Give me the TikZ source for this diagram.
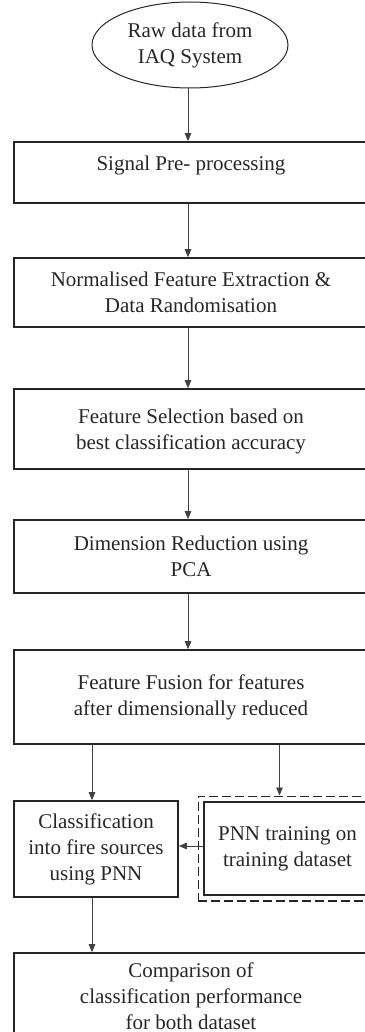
\documentclass[tikz,border=0pt]{standalone}
\usepackage{fontspec}
\setmainfont{Liberation Serif}
\usetikzlibrary{shapes.geometric,arrows.meta,fit}
\tikzset{
  stage/.style={shape=rectangle,draw=black!85,line width=1.6pt,align=center,inner sep=0pt,
    font=\fontsize{21}{26}\selectfont,text=black!85},
  flow/.style={color=black!75,line width=0.8pt,-{Triangle[length=8pt,width=6.5pt]}}
}
\begin{document}
\begin{tikzpicture}[x=1pt,y=-1pt]
\useasboundingbox (0,0) rectangle (364,1032);
\node(raw) at (190,45)[stage,shape=ellipse,line width=1pt,minimum width=196pt,minimum height=86pt]{Raw data from\\IAQ System};
\node(pre) at (191,172.5)[stage,minimum width=354pt,minimum height=61pt,text depth=18pt]{Signal Pre- processing};
\node(norm) at (191,292.5)[stage,minimum width=354pt,minimum height=69pt]{Normalised Feature Extraction \&\\Data Randomisation};
\node(sel) at (191,423)[stage,minimum width=354pt,minimum height=80pt,yshift=-6pt,text depth=0pt]{Feature Selection based on\\best classification accuracy};
\node(pca) at (191,556.5)[stage,minimum width=354pt,minimum height=73pt]{Dimension Reduction using\\PCA};
\node(fusion) at (191,697)[stage,minimum width=354pt,minimum height=94pt]{Feature Fusion for features\\after dimensionally reduced};
\node(cls) at (96,849)[stage,minimum width=164pt,minimum height=96pt]{Classification\\into fire sources\\using PNN};
\node(train) at (287.5,848.5)[stage,minimum width=167pt,minimum height=93pt]{PNN training on\\training dataset};
\node(trainwrap)[fit=(train),inner sep=5pt,draw=black!85,line width=1.4pt,dash pattern=on 9pt off 4pt]{};
\node(cmp) at (191,996)[stage,minimum width=354pt,minimum height=86pt]{Comparison of\\classification performance\\for both dataset};
\coordinate(trainin) at ([xshift=-8pt]trainwrap.north);
\path [flow]
  (raw.south -| 188,0)      edge        (pre.north -| 188,0)
  (pre.south -| 188,0)      edge        (norm.north -| 188,0)
  (norm.south -| 188,0)     edge        (sel.north -| 188,0)
  (sel.south -| 188,0)      edge        (pca.north -| 188,0)
  (pca.south -| 188,0)      edge        (fusion.north -| 188,0)
  (fusion.south -| 92,0)    edge        (cls.north -| 92,0)
  (fusion.south -| trainin) edge        (trainin)
  (train.west |- 0,846)     edge        (cls.east |- 0,846)
  (cls.south -| 92,0)       edge        (cmp.north -| 92,0);
\end{tikzpicture}
\end{document}
